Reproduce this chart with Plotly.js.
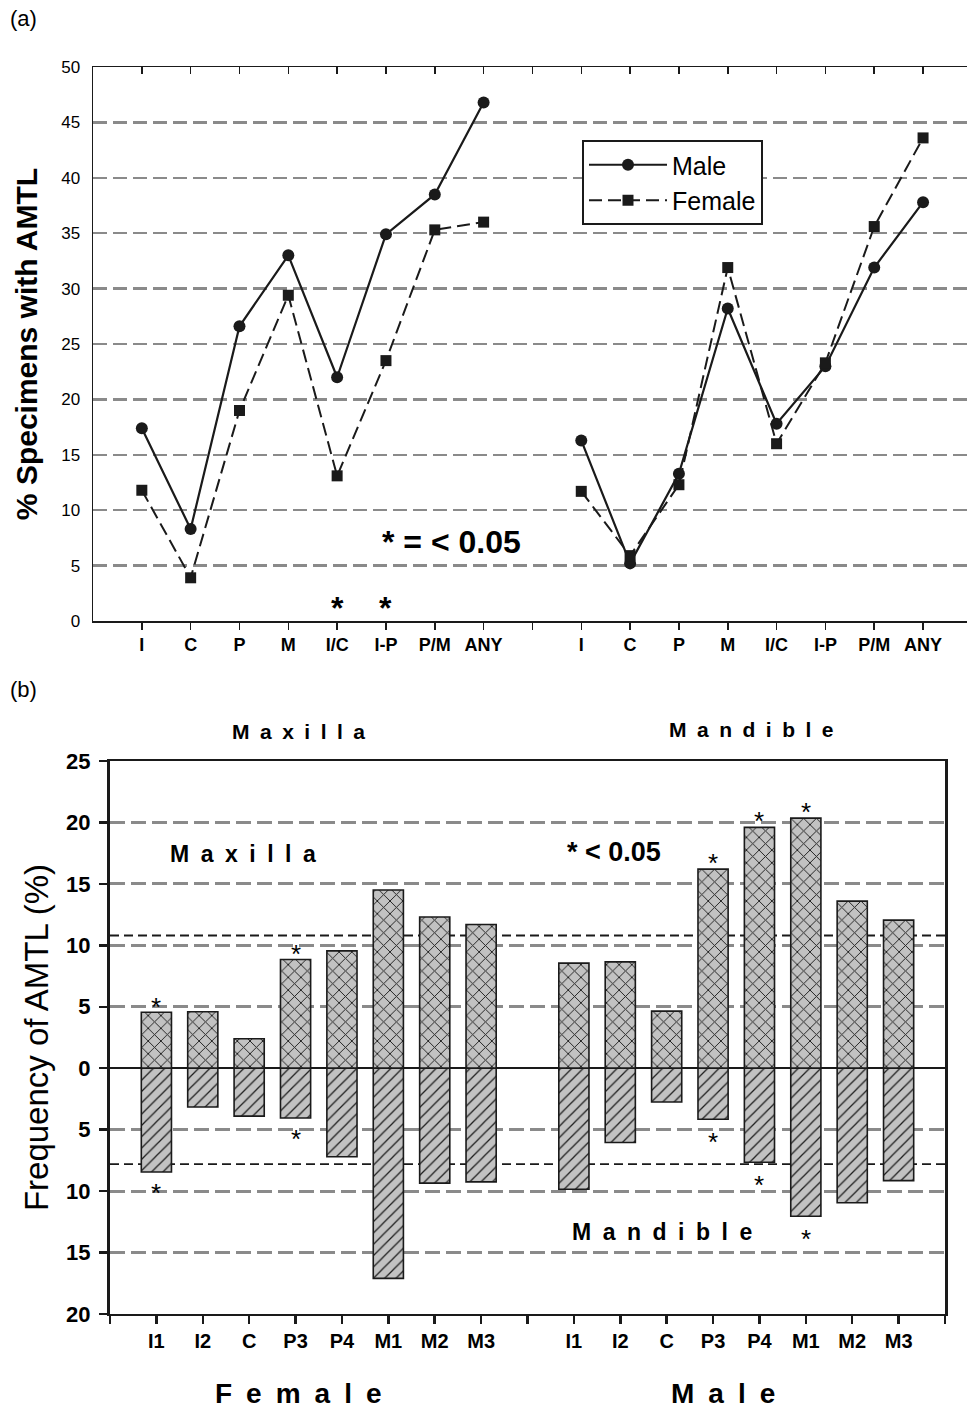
<!DOCTYPE html>
<html>
<head>
<meta charset="utf-8">
<script src="https://cdn.plot.ly/plotly-3.0.1.min.js"></script>
<style>html,body{margin:0;padding:0;background:#fff;}#chart{width:967px;height:1410px;}</style>
</head>
<body>
<div id="chart"></div>
<script>
// ---------- (a) line chart data ----------
const lineCats = ['I', 'C', 'P', 'M', 'I/C', 'I-P', 'P/M', 'ANY'];
const maleLeft = [17.4, 8.3, 26.6, 33.0, 22.0, 34.9, 38.5, 46.8];
const femaleLeft = [11.8, 3.9, 19.0, 29.4, 13.1, 23.5, 35.3, 36.0];
const maleRight = [16.3, 5.2, 13.3, 28.2, 17.8, 23.0, 31.9, 37.8];
const femaleRight = [11.7, 5.9, 12.3, 31.9, 16.0, 23.3, 35.6, 43.6];
const sigLeftCats = ['I/C', 'I-P'];

// ---------- (b) bar chart data ----------
const teeth = ['I1', 'I2', 'C', 'P3', 'P4', 'M1', 'M2', 'M3'];
const femaleMaxilla = [4.55, 4.6, 2.4, 8.85, 9.55, 14.5, 12.3, 11.7];
const femaleMandible = [8.45, 3.15, 3.9, 4.05, 7.2, 17.1, 9.35, 9.25];
const maleMaxilla = [8.55, 8.65, 4.65, 16.2, 19.6, 20.35, 13.6, 12.05];
const maleMandible = [9.85, 6.05, 2.75, 4.15, 7.65, 12.05, 10.95, 9.15];
const femaleSig = ['I1', 'P3'];
const maleSig = ['P3', 'P4', 'M1'];
const maxillaMean = 10.8;
const mandibleMean = 7.8;

// ---------- helpers ----------
const FONT = 'Liberation Sans, Arial, Helvetica, sans-serif';
const W = 967, H = 1410;
const px = v => v / W;
const py = v => 1 - v / H;
const DARK = '#1a1a1a';
const EN = '\u2002';
const spaced = s => s.split('').join(EN);

// category positions: group 1 at 1..8, gap at 9, group 2 at 10..17
const posA = lineCats.map((c, i) => i + 1);
const posB = lineCats.map((c, i) => i + 10);
const lineX = posA.concat([9], posB);
const lineTickText = lineCats.concat([''], lineCats);

const barPosF = teeth.map((c, i) => i + 1);
const barPosM = teeth.map((c, i) => i + 10);
const barX = barPosF.concat(barPosM);
const barTickVals = Array.from({length: 19}, (_, i) => i);
const barTickText = [''].concat(teeth, [''], teeth, ['']);

const maleY = maleLeft.concat([null], maleRight);
const femaleY = femaleLeft.concat([null], femaleRight);

const traces = [
  {
    type: 'scatter', mode: 'lines+markers', name: 'Male',
    x: lineX, y: maleY,
    xaxis: 'x', yaxis: 'y', connectgaps: false,
    line: {color: DARK, width: 2.2},
    marker: {symbol: 'circle', size: 12, color: DARK}
  },
  {
    type: 'scatter', mode: 'lines+markers', name: 'Female',
    x: lineX, y: femaleY,
    xaxis: 'x', yaxis: 'y', connectgaps: false,
    line: {color: DARK, width: 2, dash: '13px,6px'},
    marker: {symbol: 'square', size: 11, color: DARK}
  },
  {
    // transparent copy that only serves to activate the top (mirrored) tick axis
    type: 'scatter', mode: 'lines', name: 'Male', showlegend: false, hoverinfo: 'skip',
    x: lineX, y: maleY, xaxis: 'x2', yaxis: 'y', opacity: 0,
    line: {color: 'rgba(0,0,0,0)', width: 0}
  },
  {
    type: 'bar', name: 'Maxilla', showlegend: false,
    x: barX, y: femaleMaxilla.concat(maleMaxilla),
    xaxis: 'x3', yaxis: 'y3', width: 0.65,
    marker: {color: '#c2c2c2', line: {color: DARK, width: 1.6},
      pattern: {shape: 'x', fgcolor: '#1e1e1e', bgcolor: '#c2c2c2', size: 9, solidity: 0.2}}
  },
  {
    type: 'bar', name: 'Mandible', showlegend: false,
    x: barX, y: femaleMandible.concat(maleMandible).map(v => -v),
    xaxis: 'x3', yaxis: 'y3', width: 0.65,
    marker: {color: '#c2c2c2', line: {color: DARK, width: 1.6},
      pattern: {shape: '/', fgcolor: '#1e1e1e', bgcolor: '#c2c2c2', size: 8, solidity: 0.16}}
  }
];

const annotations = [];
const txt = (text, x, y, size, bold, extra) => Object.assign({
  text: text, x: px(x), y: py(y), xref: 'paper', yref: 'paper',
  showarrow: false, xanchor: 'center', yanchor: 'middle',
  font: {family: FONT, size: size, color: '#000', weight: bold ? 'bold' : 'normal'}
}, extra || {});

annotations.push(txt('(a)', 8, 18, 22, false, {xanchor: 'left'}));
annotations.push(txt('(b)', 8, 690, 22, false, {xanchor: 'left'}));
annotations.push(txt('* = < 0.05', 451, 542, 32, true));
annotations.push(txt(spaced('Maxilla'), 298, 731, 21, true));
annotations.push(txt(spaced('Mandible'), 751, 729, 21, true));
annotations.push(txt(spaced('Maxilla'), 243, 854, 23, true));
annotations.push(txt('* < 0.05', 614, 852, 27, true));
annotations.push(txt(spaced('Mandible'), 662, 1232, 23, true));
annotations.push(txt(spaced('Female'), 298, 1393, 28, true));
annotations.push(txt(spaced('Male'), 723, 1393, 28, true));

// significance stars in (a)
sigLeftCats.forEach(c => {
  annotations.push({text: '*', x: posA[lineCats.indexOf(c)], y: 1.5, xref: 'x', yref: 'y',
    showarrow: false, yanchor: 'middle', yshift: -4,
    font: {family: FONT, size: 32, weight: 'bold', color: '#000'}});
});
// significance stars in (b)
const star = (x, y) => ({text: '*', x: x, y: y, xref: 'x3', yref: 'y3', showarrow: false,
  yanchor: 'middle', yshift: -7, font: {family: FONT, size: 26, color: '#000'}});
femaleSig.forEach(c => {
  const i = teeth.indexOf(c);
  annotations.push(star(barPosF[i], femaleMaxilla[i] + 1.0));
  annotations.push(star(barPosF[i], -femaleMandible[i] - 1.1));
});
maleSig.forEach(c => {
  const i = teeth.indexOf(c);
  annotations.push(star(barPosM[i], maleMaxilla[i] + 1.1));
  annotations.push(star(barPosM[i], -maleMandible[i] - 1.3));
});

const shapes = [maxillaMean, -mandibleMean].map(v => ({
  type: 'line', xref: 'x3', yref: 'y3', x0: 0, x1: 18, y0: v, y1: v,
  layer: 'between', line: {color: DARK, width: 1.8, dash: '9px,5px'}
}));

const layout = {
  width: W, height: H,
  margin: {l: 0, r: 0, t: 0, b: 0},
  paper_bgcolor: '#fff', plot_bgcolor: 'rgba(0,0,0,0)',
  font: {family: FONT, color: '#000'},
  showlegend: true,
  legend: {
    x: px(582), y: py(140), xanchor: 'left', yanchor: 'top',
    bgcolor: '#fff', bordercolor: DARK, borderwidth: 2,
    font: {family: FONT, size: 25, color: '#000'},
    itemwidth: 78, tracegroupgap: 0
  },
  barmode: 'overlay',
  xaxis: {
    domain: [px(93), 1], anchor: 'y', range: [0, 17.9],
    tickmode: 'array', tickvals: lineX, ticktext: lineTickText,
    ticks: 'outside', ticklen: 7, tickwidth: 1.5, tickcolor: DARK,
    showline: true, linewidth: 1.5, linecolor: DARK,
    showgrid: false, zeroline: false, automargin: false,
    tickfont: {family: FONT, size: 18, weight: 'bold', color: '#000'}
  },
  xaxis2: {
    overlaying: 'x', matches: 'x', side: 'top', anchor: 'y', range: [0, 17.9],
    tickmode: 'array', tickvals: lineX,
    ticks: 'inside', ticklen: 7, tickwidth: 1.5, tickcolor: DARK,
    showticklabels: false, showline: true, linewidth: 1.5, linecolor: DARK,
    showgrid: false, zeroline: false
  },
  yaxis: {
    domain: [py(621), py(67)], anchor: 'x', range: [0, 50],
    tickmode: 'linear', tick0: 0, dtick: 5,
    ticks: '', showline: true, linewidth: 1.5, linecolor: DARK,
    showgrid: true, gridcolor: '#8a8a8a', gridwidth: 2.5, griddash: '14px,6px',
    zeroline: false, automargin: false, ticklabelstandoff: 8,
    tickfont: {family: FONT, size: 17, color: '#000'},
    title: {text: '% Specimens with AMTL', standoff: 14,
      font: {family: FONT, size: 30, weight: 'bold', color: '#000'}}
  },
  xaxis3: {
    domain: [px(110), px(945)], anchor: 'y3', range: [0, 18],
    tickmode: 'array', tickvals: barTickVals, ticktext: barTickText,
    ticks: 'outside', ticklen: 8, tickwidth: 2.5, tickcolor: DARK,
    showline: true, linewidth: 2, linecolor: DARK, mirror: true,
    showgrid: false, zeroline: false, automargin: false,
    tickfont: {family: FONT, size: 20, weight: 'bold', color: '#000'}
  },
  yaxis3: {
    domain: [py(1314), py(761)], anchor: 'x3', range: [-20, 25],
    tickmode: 'array', tickvals: [-20, -15, -10, -5, 0, 5, 10, 15, 20, 25],
    ticktext: ['20', '15', '10', '5', '0', '5', '10', '15', '20', '25'],
    ticks: 'outside', ticklen: 8, tickwidth: 2.5, tickcolor: DARK,
    showline: true, linewidth: 3, linecolor: DARK, mirror: true,
    showgrid: true, gridcolor: '#8a8a8a', gridwidth: 3, griddash: '15px,6px',
    zeroline: true, zerolinecolor: DARK, zerolinewidth: 1.5,
    automargin: false, ticklabelstandoff: 4,
    tickfont: {family: FONT, size: 22, weight: 'bold', color: '#000'},
    title: {text: 'Frequency of AMTL (%)', standoff: 8,
      font: {family: FONT, size: 33, color: '#000'}}
  },
  annotations: annotations,
  shapes: shapes
};

Plotly.newPlot('chart', traces, layout, {displayModeBar: false, staticPlot: true});
</script>
</body>
</html>
